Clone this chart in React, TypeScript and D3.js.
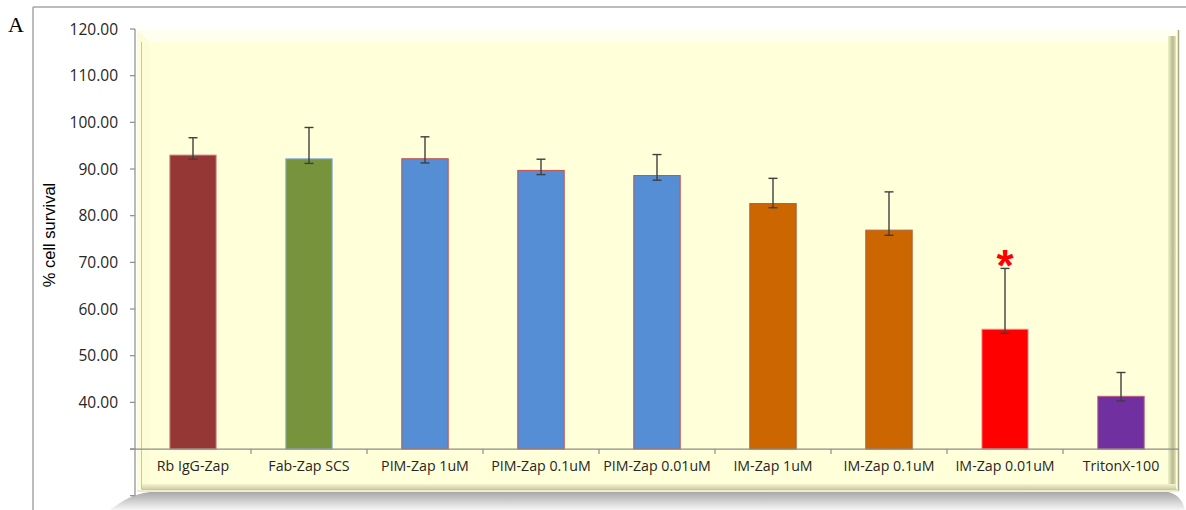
import React from "react";
import * as d3 from "d3";

const categories = [
  "Rb IgG-Zap",
  "Fab-Zap SCS",
  "PIM-Zap 1uM",
  "PIM-Zap 0.1uM",
  "PIM-Zap 0.01uM",
  "IM-Zap 1uM",
  "IM-Zap 0.1uM",
  "IM-Zap 0.01uM",
  "TritonX-100",
];
const values = [93.0, 92.2, 92.2, 89.7, 88.6, 82.6, 76.9, 55.7, 41.3];
const errPlus = [3.7, 6.7, 4.7, 2.4, 4.5, 5.4, 8.2, 13.0, 5.1];
const errMinus = [0.9, 1.0, 0.9, 0.9, 1.0, 0.9, 1.1, 0.9, 1.0];
const barColors = ["#953735", "#77933C", "#558ED5", "#558ED5", "#558ED5", "#CC6600", "#CC6600", "#FF0000", "#7030A0"];
const barStrokes = ["#D99694", "#8EB4E3", "#C0504D", "#C0504D", "#C0504D", "#B0603A", "#B0603A", "#E6B9B8", "#C06080"];
const yTicks = [20, 30, 40, 50, 60, 70, 80, 90, 100, 110, 120];
const yLabelMin = 40;
const significant = ["IM-Zap 0.01uM"];

const W = 1186;
const H = 510;
const axisX = 135;
const axisRight = 1179;

export default function App() {
  const x = d3.scaleBand<string>().domain(categories).range([axisX, axisRight]).paddingInner(0.6).paddingOuter(0.3);
  const y = d3.scaleLinear().domain([20, 120]).range([495.7, 29]);
  const step = x.step();
  const baseY = y(30);
  const font = "'Open Sans', 'Noto Sans', sans-serif";

  return (
    <svg width={W} height={H} style={{ position: "absolute", left: 0, top: 0, background: "#fff" }}>
      <defs>
        <linearGradient id="shadowG" x1="0" y1="0" x2="0" y2="1">
          <stop offset="0" stopColor="#a8a8a8" />
          <stop offset="0.45" stopColor="#cbcbcb" />
          <stop offset="1" stopColor="#f6f6f6" />
        </linearGradient>
        <linearGradient id="rightG" x1="0" y1="0" x2="1" y2="0">
          <stop offset="0" stopColor="#f2f2c8" />
          <stop offset="0.6" stopColor="#b9b98f" />
          <stop offset="1" stopColor="#e6e6bd" />
        </linearGradient>
        <linearGradient id="botG" x1="0" y1="0" x2="0" y2="1">
          <stop offset="0" stopColor="#f4f4cc" />
          <stop offset="1" stopColor="#cfcfa8" />
        </linearGradient>
      </defs>

      {/* outer frame */}
      <line x1={33} y1={7} x2={W} y2={7} stroke="#a6a6a6" strokeWidth={1.5} />
      <line x1={33} y1={7} x2={33} y2={H} stroke="#a6a6a6" strokeWidth={1.5} />
      <text x={8} y={32} fontFamily="'Liberation Serif', 'Times New Roman', serif" fontSize={22} fill="#000">A</text>

      {/* bottom shadow */}
      <path d={`M 110 ${H} C 122 501, 132 494, 150 492 L 1168 492 C 1178 494, 1183 501, 1185 ${H} Z`} fill="url(#shadowG)" />

      {/* yellow panel with bevel */}
      <rect x={137} y={30} width={1042} height={461} fill="#FFFFD9" />
      <path d={`M 137 30 L 1179 30 L 1168 42 L 149 42 Z`} fill="#FFFFEF" />
      <path d={`M 137 30 L 149 42 L 149 484 L 137 491 Z`} fill="#FCFCD6" />
      <rect x={1168} y={36} width={8} height={451} fill="url(#rightG)" />
      <rect x={141} y={484} width={1035} height={5} fill="url(#botG)" />
      <line x1={141.5} y1={42} x2={141.5} y2={489} stroke="#c9c9a0" strokeWidth={1} />
      <line x1={141.5} y1={489.5} x2={1177} y2={489.5} stroke="#c9c9a0" strokeWidth={1} />
      <line x1={1178.5} y1={30} x2={1178.5} y2={491} stroke="#a9a98a" strokeWidth={1.5} />
      <line x1={137} y1={491} x2={1179} y2={491} stroke="#d8d8b8" strokeWidth={1} />

      {/* y axis */}
      <line x1={axisX} y1={y(120)} x2={axisX} y2={y(20)} stroke="#8c8c8c" strokeWidth={1.2} />
      {yTicks.map((t) => (
        <g key={t}>
          <line x1={axisX - 5} x2={axisX} y1={y(t)} y2={y(t)} stroke="#8c8c8c" strokeWidth={1.2} />
          {t >= yLabelMin && (
            <text x={118} y={y(t) + 5.5} textAnchor="end" fontFamily={font} fontSize={15.5} fill="#262626">
              {d3.format(".2f")(t)}
            </text>
          )}
        </g>
      ))}
      <text
        transform={`translate(55, 235) rotate(-90)`}
        textAnchor="middle"
        fontFamily="'Liberation Sans', Arial, sans-serif"
        fontSize={16.5}
        fill="#000"
      >
        % cell survival
      </text>

      {/* bars */}
      {categories.map((c, i) => {
        const bx = x(c)!;
        const bw = x.bandwidth();
        const top = y(values[i]);
        return (
          <rect key={c} x={bx} y={top} width={bw} height={baseY - top} fill={barColors[i]} stroke={barStrokes[i]} strokeWidth={1} />
        );
      })}

      {/* x axis */}
      <line x1={axisX - 5} x2={axisRight} y1={baseY} y2={baseY} stroke="#8c8c8c" strokeWidth={1.2} />
      {categories.map((c, i) =>
        i > 0 ? (
          <line key={c} x1={x(c)! - (step - x.bandwidth()) / 2} x2={x(c)! - (step - x.bandwidth()) / 2} y1={baseY} y2={baseY + 5} stroke="#8c8c8c" strokeWidth={1.2} />
        ) : null
      )}
      {categories.map((c) => (
        <text key={c} x={x(c)! + x.bandwidth() / 2} y={470.5} textAnchor="middle" fontFamily={font} fontSize={14.2} fill="#262626">
          {c}
        </text>
      ))}

      {/* error bars */}
      {categories.map((c, i) => {
        const cx = x(c)! + x.bandwidth() / 2;
        const hi = y(values[i] + errPlus[i]);
        const lo = y(values[i] - errMinus[i]);
        return (
          <g key={c} stroke="#3f3f3f" strokeWidth={1.4}>
            <line x1={cx} x2={cx} y1={hi} y2={lo} />
            <line x1={cx - 4.5} x2={cx + 4.5} y1={hi} y2={hi} />
            <line x1={cx - 4.5} x2={cx + 4.5} y1={lo} y2={lo} />
          </g>
        );
      })}

      {/* significance */}
      {categories.map((c, i) =>
        significant.includes(c) ? (
          <text key={c} x={x(c)! + x.bandwidth() / 2} y={y(values[i] + errPlus[i]) + 13} textAnchor="middle" fontFamily="'Liberation Sans', Arial, sans-serif" fontWeight="bold" fontSize={44} fill="#FF0000">
            *
          </text>
        ) : null
      )}
    </svg>
  );
}
